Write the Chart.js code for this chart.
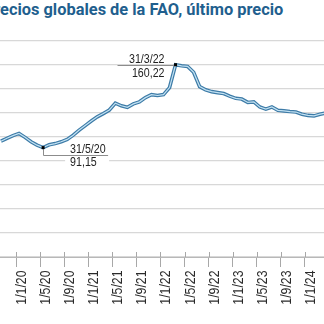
<!DOCTYPE html>
<html>
<head>
<meta charset="utf-8">
<script src="https://cdn.jsdelivr.net/npm/chart.js@4.4.1/dist/chart.umd.min.js"></script>
<style>
  html, body { margin:0; padding:0; background:#fff; }
  #wrap { position:relative; width:324px; height:324px; overflow:hidden; }
  #titulo { position:absolute; top:0; left:-16.4px; white-space:nowrap; font:700 16.4px Roboto, sans-serif; color:#1f5f8e; line-height:20px; }
  canvas { position:absolute; left:0; top:0; }
</style>
</head>
<body>
<div id="wrap">
  <div id="titulo">Precios globales de la FAO, último precio</div>
  <canvas id="grafico" width="324" height="324"></canvas>
</div>
<script>
var meses = ['2019-10','2019-11','2019-12',
  '2020-01','2020-02','2020-03','2020-04','2020-05','2020-06','2020-07','2020-08','2020-09','2020-10','2020-11','2020-12',
  '2021-01','2021-02','2021-03','2021-04','2021-05','2021-06','2021-07','2021-08','2021-09','2021-10','2021-11','2021-12',
  '2022-01','2022-02','2022-03','2022-04','2022-05','2022-06','2022-07','2022-08','2022-09','2022-10','2022-11','2022-12',
  '2023-01','2023-02','2023-03','2023-04','2023-05','2023-06','2023-07','2023-08','2023-09','2023-10','2023-11','2023-12',
  '2024-01','2024-02','2024-03','2024-04'];

var indice = [96.5, 98.9, 101.1,
  103.0, 99.7, 96.0, 93.2, 91.15, 93.5, 94.5, 96.0, 98.0, 101.5, 105.8, 109.5,
  113.3, 116.8, 119.5, 122.5, 128.2, 126.0, 124.8, 127.6, 129.3, 132.8, 135.3, 134.6,
  135.3, 141.2, 160.22, 159.3, 158.8, 154.0, 142.0, 139.3, 137.8, 137.0, 136.2, 134.0,
  132.2, 131.6, 128.8, 129.3, 125.0, 123.2, 125.0, 122.2, 121.8, 121.2, 120.8, 119.0,
  118.0, 117.6, 119.0, 120.0];

var marcas = ['1/1/20','1/5/20','1/9/20','1/1/21','1/5/21','1/9/21','1/1/22','1/5/22','1/9/22','1/1/23','1/5/23','1/9/23','1/1/24'];

// puntos destacados: fecha del texto y mes del dato
var destacados = [
  { fecha: '31/3/22', mes: '2022-03', lado: 'izq' },
  { fecha: '31/5/20', mes: '2020-05', lado: 'der' }
];

// meses contados desde enero de 2020
function numMes(m) {
  var p = m.split('-');
  return (parseInt(p[0]) - 2020) * 12 + parseInt(p[1]) - 1;
}
function numMarca(t) {
  var p = t.split('/');
  return (parseInt(p[2]) - 20) * 12 + parseInt(p[1]) - 1;
}

var puntos = meses.map(function(m, i) {
  return { x: numMes(m) + 0.5, y: indice[i] };
});

// no hay letra estrecha instalada: se estrecha a mano
var fuente = "'Liberation Sans', Arial, sans-serif";
var estrecho = 0.82;

function textoEstrecho(ctx, txt, x, y, alin) {
  ctx.save();
  ctx.translate(x, y);
  ctx.scale(estrecho, 1);
  ctx.textAlign = alin;
  ctx.fillText(txt, 0, 0);
  ctx.restore();
}

var ejeX = {
  id: 'ejeX',
  afterDraw: function(chart) {
    var ctx = chart.ctx, x = chart.scales.x, b = chart.chartArea.bottom;
    ctx.save();
    ctx.strokeStyle = '#a8a8a8';
    ctx.lineWidth = 1;
    ctx.fillStyle = '#2a2a2a';
    ctx.font = '15px ' + fuente;
    x.ticks.forEach(function(t) {
      var px = Math.round(x.getPixelForValue(t.value)) + 0.5;
      ctx.beginPath();
      ctx.moveTo(px, b - 5);
      ctx.lineTo(px, b);
      ctx.stroke();
      var k = marcas.map(numMarca).indexOf(t.value);
      if (k < 0) return;
      ctx.save();
      ctx.translate(px, b + 13.5);
      ctx.rotate(-Math.PI / 2);
      ctx.scale(estrecho, 1);
      ctx.textAlign = 'right';
      ctx.fillText(marcas[k], 0, 9);
      ctx.restore();
    });
    ctx.restore();
  }
};

var notas = {
  id: 'notas',
  afterDatasetsDraw: function(chart) {
    var ctx = chart.ctx, sx = chart.scales.x, sy = chart.scales.y;
    ctx.save();
    destacados.forEach(function(d) {
      var i = meses.indexOf(d.mes);
      var px = sx.getPixelForValue(numMes(d.mes) + 0.5);
      var py = sy.getPixelForValue(indice[i]);
      var valor = indice[i].toFixed(2).replace('.', ',');
      ctx.font = '13px ' + fuente;
      ctx.fillStyle = '#222';
      ctx.strokeStyle = '#8c8c8c';
      ctx.lineWidth = 1;
      if (d.lado === 'izq') {
        var ly = Math.round(py) + 0.5;
        ctx.beginPath();
        ctx.moveTo(px - 58, ly);
        ctx.lineTo(px, ly);
        ctx.stroke();
        textoEstrecho(ctx, d.fecha, px - 11, py - 2, 'right');
        textoEstrecho(ctx, valor, px - 11, py + 12, 'right');
      } else {
        ctx.fillStyle = '#fff';
        ctx.fillRect(px + 22, py + 8.5, 44, 12);
        var hy = Math.round(py + 7) + 0.5;
        var vx = Math.round(px) + 0.5;
        ctx.beginPath();
        ctx.moveTo(vx, py);
        ctx.lineTo(vx, hy);
        ctx.lineTo(px + 65, hy);
        ctx.stroke();
        ctx.fillStyle = '#222';
        textoEstrecho(ctx, d.fecha, px + 27, py + 5.5, 'left');
        textoEstrecho(ctx, valor, px + 27, py + 18.5, 'left');
      }
      ctx.fillStyle = '#000';
      ctx.fillRect(px - 1.5, py - 1.5, 3, 3);
    });
    ctx.restore();
  }
};

new Chart(document.getElementById('grafico'), {
  type: 'line',
  data: {
    datasets: [{
      data: puntos,
      borderColor: '#c3e2f3',
      borderWidth: 1.2,
      pointRadius: 0,
      tension: 0,
      order: 0
    }, {
      data: puntos,
      borderColor: '#3d7ba7',
      borderWidth: 3.6,
      pointRadius: 0,
      tension: 0,
      order: 1
    }]
  },
  options: {
    responsive: false,
    animation: false,
    devicePixelRatio: 1,
    layout: { padding: { top: 41, bottom: 57, left: 0, right: 0 } },
    plugins: { legend: { display: false }, tooltip: { enabled: false }, title: { display: false } },
    scales: {
      x: {
        type: 'linear',
        min: -2.66,
        max: 51.16,
        afterBuildTicks: function(axis) {
          axis.ticks = marcas.map(function(t) { return { value: numMarca(t) }; });
        },
        ticks: { display: false },
        grid: { drawOnChartArea: false, drawTicks: true, tickLength: 10, color: '#a8a8a8' },
        border: { display: true, color: '#b8b8b8', width: 1 }
      },
      y: {
        min: 0,
        max: 180,
        ticks: { display: false, stepSize: 20 },
        grid: { color: '#d8d8d8', lineWidth: 1.3, drawTicks: false },
        border: { display: false }
      }
    }
  },
  plugins: [ejeX, notas]
});
</script>
</body>
</html>
